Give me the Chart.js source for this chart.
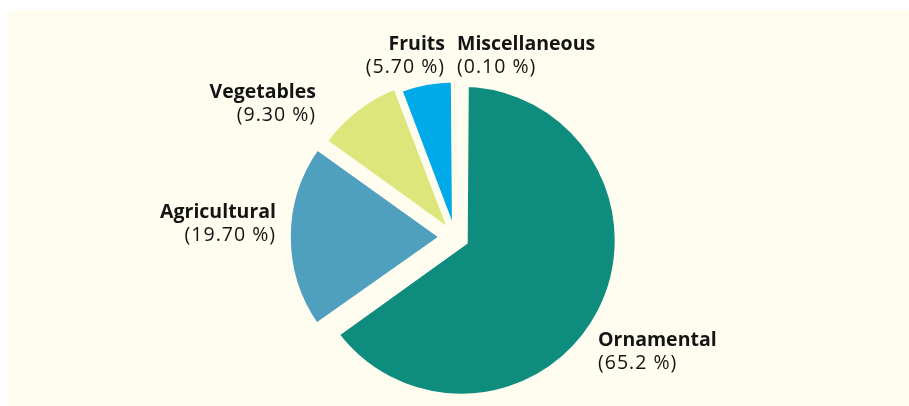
<!DOCTYPE html>
<html>
<head>
<meta charset="utf-8">
<title>Pie chart</title>
<script src="https://cdn.jsdelivr.net/npm/chart.js@4.4.0/dist/chart.umd.min.js"></script>
<style>
  html, body { margin: 0; padding: 0; background: #ffffff; }
  #panel { position: absolute; left: 8px; top: 10px; width: 901px; height: 396px; background: #fffdf0; }
  #wrap { position: absolute; left: 0; top: 0; width: 909px; height: 406px; }
</style>
</head>
<body>
<div id="panel"></div>
<div id="wrap"><canvas id="chart"></canvas></div>
<script>
// data
var categories = ['Ornamental', 'Agricultural', 'Vegetables', 'Fruits', 'Miscellaneous'];
var shares = [65.2, 19.7, 9.3, 5.7, 0.1];
var shareLabels = ['(65.2 %)', '(19.70 %)', '(9.30 %)', '(5.70 %)', '(0.10 %)'];

// look
var colors = ['#0e8d7f', '#4f9fbe', '#dce67b', '#00a9e8', '#f0c48a'];
var gapColor = '#fffdf0';
var borders = [13, 5, 5, 5, 0];
var explode = [28, 52, 24, 10, 8];
// where the two-line labels sit: x, first baseline, alignment
var labelPos = [[598, 346, 'left'], [276, 218, 'right'], [316, 98, 'right'], [445, 50, 'right'], [457, 50, 'left']];

var outsideLabels = {
  id: 'outsideLabels',
  afterDraw: function (chart) {
    var ctx = chart.ctx;
    ctx.save();
    ctx.fillStyle = '#141414';
    ctx.textBaseline = 'alphabetic';
    for (var i = 0; i < categories.length; i++) {
      var p = labelPos[i];
      ctx.textAlign = p[2];
      ctx.letterSpacing = '0px';
      ctx.font = 'bold 19.5px "Open Sans"';
      ctx.fillText(categories[i], p[0], p[1]);
      ctx.letterSpacing = '1px';
      ctx.font = '19.5px "Open Sans"';
      ctx.fillText(shareLabels[i], p[0], p[1] + 23);
    }
    ctx.restore();
  }
};

new Chart(document.getElementById('chart'), {
  type: 'pie',
  data: {
    labels: categories,
    datasets: [{
      data: shares,
      backgroundColor: colors,
      borderColor: gapColor,
      borderWidth: borders,
      borderJoinStyle: 'miter',
      offset: explode,
      hoverOffset: 0,
      radius: 153
    }]
  },
  options: {
    responsive: true,
    maintainAspectRatio: false,
    animation: false,
    layout: { padding: { left: 1, right: 0, top: 68, bottom: 0 } },
    plugins: {
      legend: { display: false },
      tooltip: { enabled: false }
    }
  },
  plugins: [outsideLabels]
});
</script>
</body>
</html>
